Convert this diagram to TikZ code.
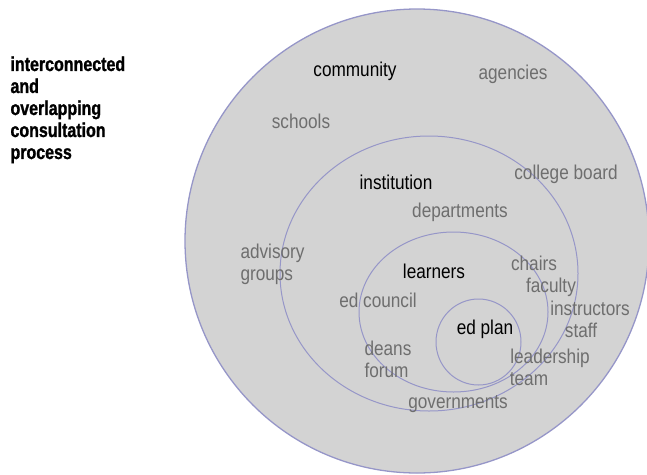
\documentclass[tikz,border=0pt]{standalone}
\usepackage{fontspec}
\setmainfont{Liberation Sans}
\newfontfamily\labelfont{Liberation Sans}[FakeStretch=0.86]
\newfontfamily\headfont{Liberation Sans Bold}[FakeStretch=0.8, FakeBold=1.2]
\usetikzlibrary{positioning}

\definecolor{ringline}{RGB}{150,150,200}
\definecolor{discfill}{RGB}{211,211,211}
\definecolor{softtext}{RGB}{110,110,110}

\tikzset{
  core/.style={anchor=base, inner sep=0pt, text=black,
               font=\labelfont\fontsize{20}{22}\selectfont},
  outer/.style={core, text=softtext},
  pair/.style={outer, anchor=north west, align=left},
  headline/.style={anchor=north west, inner sep=0pt, align=left,
               font=\headfont\fontsize{20}{22}\selectfont}
}

\begin{document}
\begin{tikzpicture}[x=1pt, y=-1pt, line width=1pt]
  \useasboundingbox (0,0) rectangle (647,474);

  % draw the nested consultation rings
  \filldraw[fill=discfill, draw=ringline, line width=1.3pt] (417,241) circle [radius=232];
  \draw[ringline] (429,273.5) ellipse [x radius=149, y radius=137.5];
  \draw[ringline] (453.5,312) ellipse [x radius=94.5, y radius=80];
  \draw[ringline] (478.5,342) ellipse [x radius=42.5, y radius=43];

  % heading on the left
  \node[headline] (heading) at (10,56)
    {interconnected\\and\\overlapping\\consultation\\process};

  % outer ring: community
  \node[core]  (community)   at (355,76)  {community};
  \node[outer] (agencies)    at (513,79)  {agencies};
  \node[outer] (schools)     at (301,128) {schools};
  \node[outer] (collegeboard) at (566,179) {college board};
  \node[outer] (governments) at (458,408) {governments};

  % second ring: institution
  \node[core]  (institution) at (396,189) {institution};
  \node[outer] (departments) at (460,217) {departments};
  \node[pair]  (advisory)    at (240,244) {advisory\\groups};
  \node[outer] (instructors) at (590,315) {instructors};
  \node[outer] (staff)       at (581,337) {staff};

  % third ring: learners
  \node[core]  (learners)    at (434,278) {learners};
  \node[outer] (chairs)      at (534,270) {chairs};
  \node[outer] (faculty)     at (551,292) {faculty};
  \node[outer] (edcouncil)   at (378,307) {ed council};
  \node[pair]  (deans)       at (364,341) {deans\\forum};
  \node[outer] (leadership)  at (550,363) {leadership};
  \node[outer] (team)        at (529,385) {team};

  % centre: ed plan
  \node[core]  (edplan)      at (485,334) {ed plan};
\end{tikzpicture}
\end{document}
